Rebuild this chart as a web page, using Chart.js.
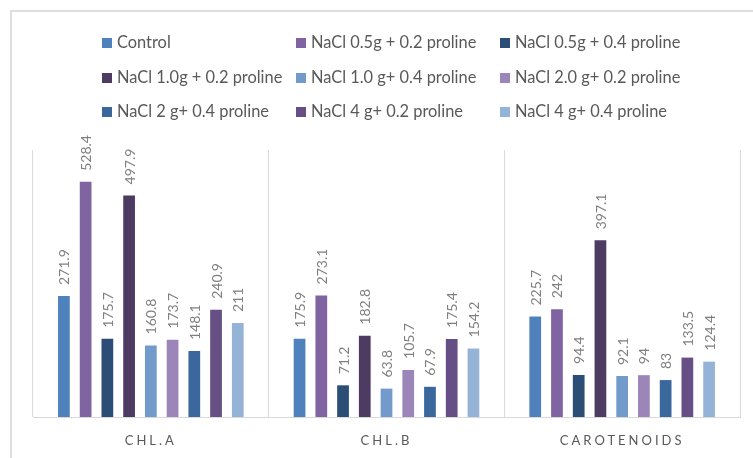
<!DOCTYPE html>
<html>
<head>
<meta charset="utf-8">
<script src="https://cdn.jsdelivr.net/npm/chart.js@4"></script>
<style>
  html, body { margin: 0; padding: 0; background: #fff; overflow: hidden; }
  #wrap { position: relative; width: 753px; height: 458px; }
  #frame { position: absolute; left: 10px; top: 10px; width: 760px; height: 470px;
           border: 2px solid #dedede; box-sizing: border-box; pointer-events: none; }
  #legend { position: absolute; left: 0; top: 0; width: 753px; height: 130px;
            font-family: Lato, "Open Sans", sans-serif; font-size: 16.4px; color: #595959; }
  .item { position: absolute; white-space: nowrap; line-height: 20px; }
  .item span.box { display: inline-block; width: 10px; height: 10px; margin-right: 5px;
                   vertical-align: 0px; }
  canvas { position: absolute; left: 0; top: 0; }
</style>
</head>
<body>
<div id="wrap">
  <div id="frame"></div>
  <canvas id="chart" width="753" height="458"></canvas>
  <div id="legend"></div>
</div>
<script>
const categories = ["CHL.A", "CHL.B", "CAROTENOIDS"]

const seriesNames = [
  "Control",
  "NaCl 0.5g + 0.2 proline",
  "NaCl 0.5g + 0.4 proline",
  "NaCl 1.0g + 0.2 proline",
  "NaCl 1.0 g+ 0.4 proline",
  "NaCl 2.0 g+ 0.2 proline",
  "NaCl 2 g+ 0.4 proline",
  "NaCl 4 g+ 0.2 proline",
  "NaCl 4 g+ 0.4 proline"
]

const control      = [271.9, 175.9, 225.7]
const nacl05_02    = [528.4, 273.1, 242]
const nacl05_04    = [175.7, 71.2, 94.4]
const nacl10_02    = [497.9, 182.8, 397.1]
const nacl10_04    = [160.8, 63.8, 92.1]
const nacl20_02    = [173.7, 105.7, 94]
const nacl2_04     = [148.1, 67.9, 83]
const nacl4_02     = [240.9, 175.4, 133.5]
const nacl4_04     = [211, 154.2, 124.4]

const seriesValues = [control, nacl05_02, nacl05_04, nacl10_02, nacl10_04,
                      nacl20_02, nacl2_04, nacl4_02, nacl4_04]

const seriesColors = ["#4f81bd", "#8064a2", "#2c4d75", "#4d3b62", "#729aca",
                      "#9c85b8", "#3a679c", "#664f84", "#95b3d7"]

// legend grid: 3 columns x 3 rows, like the Excel original
const legendCols = [102, 296, 500]
const legendRows = [32, 67, 101]

const legendEl = document.getElementById("legend")
seriesNames.forEach((name, i) => {
  const div = document.createElement("div")
  div.className = "item"
  div.style.left = legendCols[i % 3] + "px"
  div.style.top = legendRows[Math.floor(i / 3)] + "px"
  const box = document.createElement("span")
  box.className = "box"
  box.style.background = seriesColors[i]
  div.appendChild(box)
  div.appendChild(document.createTextNode(name))
  legendEl.appendChild(div)
})

// rotated value labels above each bar
const valueLabels = {
  id: "valueLabels",
  beforeDraw(chart) {
    chart.ctx.letterSpacing = "3px"
  },
  beforeDatasetsDraw(chart) {
    chart.ctx.letterSpacing = "0px"
  },
  afterDatasetsDraw(chart) {
    const ctx = chart.ctx
    ctx.save()
    ctx.font = "14px Lato, 'Open Sans', sans-serif"
    ctx.fillStyle = "#7f7f7f"
    ctx.textAlign = "left"
    ctx.textBaseline = "middle"
    chart.data.datasets.forEach((ds, di) => {
      const meta = chart.getDatasetMeta(di)
      meta.data.forEach((bar, i) => {
        ctx.save()
        ctx.translate(bar.x + 1, bar.y - 11)
        ctx.rotate(-Math.PI / 2)
        ctx.fillText(String(ds.data[i]), 0, 0)
        ctx.restore()
      })
    })
    ctx.restore()
  }
}

new Chart(document.getElementById("chart"), {
  type: "bar",
  data: {
    labels: categories,
    datasets: seriesNames.map((name, i) => ({
      label: name,
      data: seriesValues[i],
      backgroundColor: seriesColors[i],
      categoryPercentage: 0.83,
      barPercentage: 0.54
    }))
  },
  options: {
    responsive: false,
    animation: false,
    events: [],
    layout: { padding: { top: 150, left: 33, right: 13, bottom: 0 } },
    plugins: {
      legend: { display: false },
      tooltip: { enabled: false }
    },
    scales: {
      y: {
        display: false,
        min: 0,
        max: 600
      },
      x: {
        grid: { color: "#d9d9d9", drawTicks: false, lineWidth: 1 },
        border: { color: "#d9d9d9" },
        ticks: {
          color: "#595959",
          padding: 16,
          font: { family: "Lato, 'Open Sans', sans-serif", size: 13 }
        },
        afterFit(scale) {
          scale.height = 41
        }
      }
    }
  },
  plugins: [valueLabels]
})
</script>
</body>
</html>
